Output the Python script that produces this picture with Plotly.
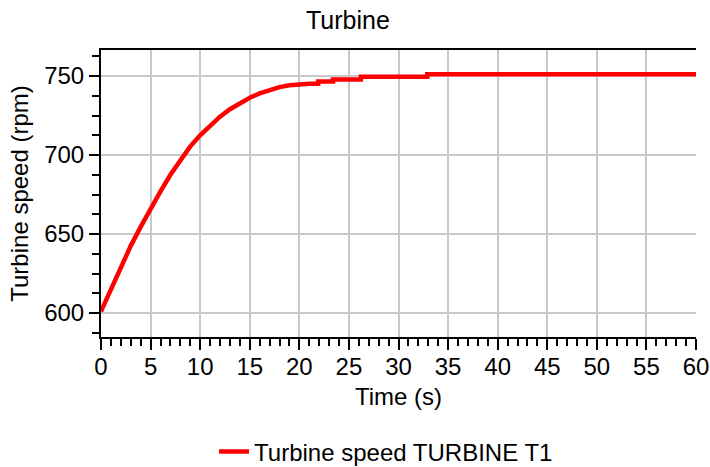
import plotly.graph_objects as go

# Turbine run-up: time (s) and speed (rpm); duplicated times mark the quantised steps
time_s = [0, 0.5, 1, 2, 3, 4, 5, 6, 7, 8, 9, 10, 11, 12, 13, 14, 15, 16, 17, 18,
          19, 20, 21, 21.9, 21.9, 23.4, 23.4, 26.2, 26.2, 32.9, 32.9, 60]
speed_rpm = [601, 608, 615.5, 629.5, 642.5, 654.5, 666, 677, 687.5, 697, 705.5, 712.5,
             718.8, 724.3, 729, 733, 736.3, 739, 741.2, 743, 744.2, 745, 745.2,
             745.2, 746.5, 746.5, 747.9, 747.9, 749.6, 749.6, 751.2, 751.2]

x_ticks = list(range(0, 61, 5))
y_ticks = [600, 650, 700, 750]

FONT = "Liberation Sans, Arial, sans-serif"
GRID = "rgb(200,200,200)"

fig = go.Figure()
fig.add_trace(go.Scatter(
    x=time_s, y=speed_rpm, mode="lines",
    name="Turbine speed TURBINE T1",
    line=dict(color="rgb(255,0,0)", width=4.5),
))

fig.update_layout(
    width=710, height=467,
    margin=dict(l=101, r=14, t=50, b=130, autoexpand=False),
    paper_bgcolor="white", plot_bgcolor="white",
    font=dict(family=FONT, color="black"),
    title=dict(text="Turbine", font=dict(size=25, color="black"),
               x=0.49, xanchor="center", xref="container",
               y=1 - 20 / 467, yanchor="middle", yref="container"),
    showlegend=True,
    legend=dict(orientation="h", x=0.19, xanchor="left", y=-0.40, yanchor="middle",
                font=dict(size=24), bgcolor="rgba(0,0,0,0)"),
)

fig.update_xaxes(
    range=[0, 60], tickvals=x_ticks, ticktext=[str(v) for v in x_ticks],
    showgrid=True, gridcolor=GRID, gridwidth=2,
    showline=True, linecolor="black", linewidth=2, mirror=True,
    ticks="outside", ticklen=11, tickwidth=2, tickcolor="black",
    tickfont=dict(size=24), zeroline=False, automargin=False,
    ticklabelstandoff=-4,
    minor=dict(dtick=1, ticks="outside", ticklen=7, tickwidth=1.5,
               tickcolor="black", showgrid=False),
    title=dict(text="Time (s)", font=dict(size=24), standoff=9),
)
fig.update_yaxes(
    range=[584.8, 766.5], tickvals=y_ticks, ticktext=[str(v) for v in y_ticks],
    showgrid=True, gridcolor=GRID, gridwidth=2,
    showline=True, linecolor="black", linewidth=2, mirror=False,
    ticks="outside", ticklen=10, tickwidth=2, tickcolor="black",
    tickfont=dict(size=24), zeroline=False, automargin=False,
    minor=dict(dtick=12.5, ticks="outside", ticklen=7, tickwidth=1.5,
               tickcolor="black", showgrid=False),
    title=dict(text="Turbine speed (rpm)", font=dict(size=24), standoff=9),
)

fig.write_html("out.html")
